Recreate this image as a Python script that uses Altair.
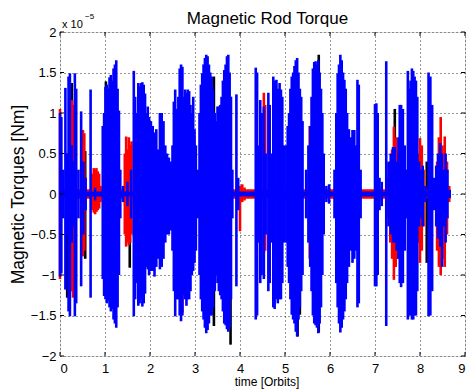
import altair as alt
import pandas as pd

# ---- data (torque values in units of 1e-5 Nm, time in orbits) ----
T_START, T_END = 0.0, 8.68

# envelope spikes (t, upper, lower)
BLUE = [
    (0.00, 1.00, -1.02), (0.03, 0.95, -0.98), (0.07, 0.30, -0.30), (0.12, 1.31, -1.18),
    (0.15, 0.50, -0.50), (0.19, 1.45, -1.45), (0.22, 1.49, -1.51), (0.26, 0.60, -0.60),
    (0.30, 0.40, -0.40), (0.33, 1.49, -1.51), (0.36, 1.30, -1.35), (0.41, 0.30, -0.30),
    (0.47, 1.02, -1.14), (0.52, 0.40, -0.50), (0.57, 0.20, -0.20), (0.68, 1.29, -1.28),
    (0.78, 0.08, -0.08),
    (0.95, 0.84, -1.05), (0.98, 1.00, -1.26), (1.01, 1.32, -1.30), (1.04, 1.35, -1.35),
    (1.07, 1.30, -1.32), (1.10, 1.44, -1.40), (1.13, 1.47, -1.45), (1.16, 1.40, -1.42),
    (1.19, 1.55, -1.55), (1.22, 1.60, -1.60), (1.25, 1.65, -1.65), (1.28, 1.30, -1.40),
    (1.31, 1.03, -1.00), (1.34, 0.30, -0.30), (1.40, 0.10, -0.10), (1.50, 0.15, -0.15),
    (1.58, 0.30, -0.30),
    (1.64, 1.52, -1.51), (1.67, 1.20, -1.30), (1.70, 1.00, -1.10), (1.74, 1.37, -1.38),
    (1.77, 1.33, -1.35), (1.80, 1.37, -1.30), (1.83, 1.38, -1.39), (1.86, 1.35, -1.35),
    (1.89, 1.24, -1.23), (1.92, 1.00, -0.90), (1.95, 1.08, -0.93), (1.98, 0.95, -1.00),
    (2.02, 0.90, -0.95), (2.06, 0.84, -0.95), (2.10, 0.76, -1.02), (2.14, 0.80, -0.90),
    (2.18, 0.55, -0.80), (2.22, 1.00, -0.93), (2.26, 1.00, -0.90), (2.30, 0.90, -0.80),
    (2.34, 0.60, -0.60), (2.38, 0.50, -0.50), (2.42, 0.45, -0.50), (2.46, 0.40, -0.45),
    (2.50, 0.60, -0.70),
    (2.53, 1.14, -1.20), (2.56, 1.29, -1.51), (2.60, 1.05, -1.30), (2.63, 1.20, -1.30),
    (2.66, 1.55, -1.50), (2.69, 1.60, -1.57), (2.72, 1.57, -1.50), (2.75, 1.20, -1.25),
    (2.78, 1.29, -1.30), (2.81, 1.25, -1.38), (2.84, 1.29, -1.30), (2.87, 1.27, -1.30),
    (2.90, 1.10, -1.20), (2.93, 1.00, -1.00), (2.96, 1.20, -0.95), (2.99, 0.80, -0.85),
    (3.02, 0.60, -0.70), (3.06, 0.30, -0.30),
    (3.10, 1.00, -1.00), (3.13, 1.35, -1.30), (3.16, 1.49, -1.45), (3.19, 1.60, -1.55),
    (3.22, 1.68, -1.65), (3.25, 1.72, -1.72), (3.28, 1.70, -1.68), (3.31, 1.60, -1.60),
    (3.34, 1.50, -1.50), (3.37, 1.45, -1.50), (3.40, 1.30, -1.40), (3.44, 1.00, -1.20),
    (3.47, 0.90, -1.00),
    (3.50, 1.08, -1.10), (3.53, 1.08, -1.20), (3.56, 1.10, -1.25), (3.59, 1.20, -1.30),
    (3.62, 1.40, -1.45), (3.65, 1.53, -1.60), (3.68, 1.60, -1.62), (3.71, 1.70, -1.67),
    (3.74, 1.72, -1.70), (3.77, 1.50, -1.65), (3.80, 1.20, -1.30), (3.83, 0.30, -0.30),
    (3.92, 1.23, -1.14), (3.96, 0.20, -0.20),
    (4.35, 1.56, -1.55), (4.38, 1.50, -1.50), (4.41, 0.60, -0.60), (4.45, 1.16, -1.10),
    (4.48, 1.00, -1.00), (4.53, 1.08, -1.05), (4.57, 0.50, -0.50), (4.63, 1.25, -1.20),
    (4.66, 1.10, -1.10), (4.70, 0.50, -0.60), (4.74, 1.45, -1.40), (4.77, 1.40, -1.42),
    (4.81, 1.41, -1.30), (4.84, 1.30, -1.35), (4.88, 1.37, -1.30), (4.91, 1.29, -1.30),
    (4.94, 1.20, -1.10), (4.98, 0.60, -0.60),
    (5.03, 0.60, -0.60), (5.06, 0.84, -0.90), (5.09, 1.00, -1.10), (5.12, 1.30, -1.30),
    (5.15, 1.45, -1.49), (5.18, 1.50, -1.55), (5.21, 1.58, -1.60), (5.24, 1.65, -1.70),
    (5.27, 1.68, -1.76), (5.30, 1.50, -1.55), (5.33, 1.30, -1.40), (5.36, 1.20, -1.20),
    (5.39, 0.90, -1.00),
    (5.47, 0.30, -0.30), (5.52, 0.60, -0.60), (5.56, 0.84, -0.90), (5.59, 1.20, -1.20),
    (5.62, 1.55, -1.50), (5.65, 1.63, -1.60), (5.68, 1.64, -1.62), (5.71, 1.60, -1.65),
    (5.74, 1.65, -1.72), (5.77, 1.50, -1.60), (5.80, 1.30, -1.40), (5.83, 1.00, -1.00),
    (5.86, 0.50, -0.50), (5.92, 0.10, -0.10), (5.98, 0.12, -0.12),
    (6.10, 0.30, -0.30), (6.14, 1.00, -1.10), (6.17, 1.49, -1.40), (6.20, 1.60, -1.60),
    (6.23, 1.72, -1.71), (6.26, 1.65, -1.65), (6.29, 1.50, -1.55), (6.32, 1.41, -1.45),
    (6.35, 1.30, -1.30), (6.38, 1.00, -1.10), (6.42, 0.80, -0.90), (6.46, 0.70, -0.70),
    (6.50, 0.79, -0.85), (6.54, 0.79, -0.80), (6.58, 0.60, -0.70), (6.61, 1.41, -1.40),
    (6.64, 1.35, -1.35), (6.68, 0.30, -0.30),
    (7.00, 1.11, -1.14), (7.03, 1.12, -1.14), (7.06, 1.00, -1.00), (7.10, 0.20, -0.20),
    (7.15, 0.15, -0.15), (7.25, 1.64, -1.63), (7.30, 0.40, -0.40), (7.35, 0.50, -0.50),
    (7.40, 0.58, -0.60), (7.44, 0.58, -0.60), (7.48, 0.40, -0.70), (7.52, 0.70, -0.80),
    (7.55, 1.10, -1.10), (7.58, 1.10, -1.15), (7.62, 1.05, -1.10), (7.66, 0.60, -0.70),
    (7.70, 0.30, -0.30), (7.73, 1.52, -1.55), (7.76, 1.30, -1.50), (7.79, 1.40, -1.50),
    (7.82, 1.55, -1.55), (7.85, 1.52, -1.55), (7.88, 1.45, -1.50), (7.91, 1.40, -1.50),
    (7.94, 1.20, -1.20), (7.98, 0.40, -0.40), (8.02, 0.30, -0.30), (8.06, 0.35, -0.40),
    (8.12, 0.10, -0.10), (8.19, 1.50, -1.51), (8.23, 1.45, -1.50), (8.27, 1.10, -1.20),
    (8.31, 0.20, -0.20), (8.36, 0.35, -0.40), (8.40, 0.50, -0.55), (8.45, 0.63, -0.65),
    (8.49, 0.50, -0.90), (8.53, 0.30, -0.40), (8.57, 0.50, -0.60), (8.61, 0.30, -0.30),
    (8.66, 0.05, -0.05),
]

RED = [
    (0.00, 1.05, -1.05), (0.27, 1.16, -1.20), (0.29, 1.10, -1.28), (0.51, 0.79, -0.77),
    (0.54, 0.75, -0.70), (0.72, 0.25, -0.20), (0.75, 0.32, -0.23), (0.78, 0.30, -0.25),
    (0.81, 0.32, -0.22), (0.84, 0.28, -0.20), (0.87, 0.25, -0.18), (0.90, 0.10, -0.10),
    (1.44, 0.50, -0.50), (1.47, 0.71, -0.65), (1.50, 0.55, -0.60), (1.53, 0.70, -0.63),
    (1.56, 0.60, -0.60), (1.59, 0.65, -0.50), (2.72, 0.90, -1.46), (2.98, 0.71, -0.70),
    (3.29, 1.00, -1.56), (3.55, 0.79, -1.02), (4.00, 0.10, -0.46), (4.05, 0.12, -0.10),
    (4.10, 0.08, -0.08), (4.53, 1.25, -0.73), (4.56, 1.10, -0.70), (5.55, 0.84, -0.80),
    (6.54, 0.60, -0.60), (7.30, 0.20, -0.30), (7.34, 0.40, -0.60), (7.38, 0.55, -0.80),
    (7.42, 0.83, -1.06), (7.46, 0.70, -0.90), (7.50, 0.50, -0.80), (7.96, 0.50, -0.60),
    (8.00, 0.69, -0.85), (8.04, 0.60, -0.70), (8.08, 0.30, -0.40), (8.38, 0.40, -0.70),
    (8.42, 0.70, -0.90), (8.46, 0.95, -1.00), (8.50, 0.60, -0.80), (8.55, 0.71, -0.90),
    (8.60, 0.40, -0.50), (8.65, 0.10, -0.10),
]

BLACK = [
    (0.16, 0.50, -1.28), (0.26, 1.37, -1.20), (0.56, 0.53, -0.80), (1.02, 1.39, -1.24),
    (1.55, 0.60, -0.91), (3.42, 1.45, -1.63), (3.79, 1.20, -1.86), (5.28, 1.40, -1.76),
    (5.33, 1.00, -1.49), (5.75, 1.72, -1.71), (7.44, 1.05, -0.90), (8.15, 0.40, -0.85),
]

# quiet-level half widths of each signal
BASE_HALF = {"black": 0.05, "red": 0.06, "blue": 0.03}

X_TICKS = [0, 1, 2, 3, 4, 5, 6, 7, 8, 9]
Y_TICKS = [-2, -1.5, -1, -0.5, 0, 0.5, 1, 1.5, 2]

TITLE = "Magnetic Rod Torque"
X_TITLE = "time [Orbits]"
Y_TITLE = "Magnetic Torques [Nm]"

# ---- chart ----
W, H = 405, 324
FONT = "Liberation Sans"

xs = alt.Scale(domain=[0, 9], nice=False, zero=False)
ys = alt.Scale(domain=[-2, 2], nice=False, zero=False)

x_axis = alt.Axis(values=X_TICKS, title=X_TITLE, grid=True, gridDash=[1, 3],
                  gridColor="#333", gridWidth=1, ticks=False, tickSize=0, domain=False,
                  labelFont=FONT, labelFontSize=13, labelColor="black", labelPadding=6,
                  titleFont=FONT, titleFontSize=12, titleFontWeight="normal",
                  titleColor="black", titleX=W / 2 + 4, titleY=29.5,
                  titleBaseline="alphabetic", format="d")
y_axis = alt.Axis(values=Y_TICKS, title=Y_TITLE, grid=True, gridDash=[1, 3],
                  gridColor="#333", gridWidth=1, ticks=False, tickSize=0, domain=False,
                  labelFont=FONT, labelFontSize=13, labelColor="black", labelPadding=4,
                  format=".1~f", titleFont=FONT, titleFontSize=17.5,
                  titleFontWeight="normal", titleColor="black",
                  titleX=-37, titleY=H / 2, titleAngle=270, titleBaseline="alphabetic")


def X(field):
    return alt.X(field, scale=xs, axis=x_axis)


def Y(field):
    return alt.Y(field, scale=ys, axis=y_axis)


def spike_layer(rows, color, width):
    df = pd.DataFrame(rows, columns=["t", "hi", "lo"])
    return alt.Chart(df).mark_rule(color=color, strokeWidth=width).encode(
        x=X("t:Q"), y=Y("lo:Q"), y2="hi:Q")


def base_layer(color):
    h = BASE_HALF[color]
    df = pd.DataFrame({"t": [T_START], "t1": [T_END], "lo": [-h], "hi": [h]})
    return alt.Chart(df).mark_rect(color=color).encode(
        x=X("t:Q"), x2="t1:Q", y=Y("lo:Q"), y2="hi:Q")


xt = pd.DataFrame({"t": X_TICKS})
yt = pd.DataFrame({"lo": Y_TICKS})
tick_top = alt.Chart(xt).mark_rule(color="black").encode(
    x=X("t:Q"), y=alt.value(0), y2=alt.value(4))
tick_bot = alt.Chart(xt).mark_rule(color="black").encode(
    x=X("t:Q"), y=alt.value(H), y2=alt.value(H - 4))
tick_left = alt.Chart(yt).mark_rule(color="black").encode(
    y=Y("lo:Q"), x=alt.value(0), x2=alt.value(4))
tick_right = alt.Chart(yt).mark_rule(color="black").encode(
    y=Y("lo:Q"), x=alt.value(W), x2=alt.value(W - 4))

corner = pd.DataFrame({"t": [0.0], "lo": [2.0]})
mid_top = pd.DataFrame({"t": [4.5], "lo": [2.0]})


def text_layer(df, txt, size, align, dx, dy):
    return alt.Chart(df).mark_text(text=txt, font=FONT, fontSize=size, align=align,
                                   baseline="alphabetic", dx=dx, dy=dy,
                                   color="black").encode(x=X("t:Q"), y=Y("lo:Q"))


chart = alt.layer(
    spike_layer(BLACK, "black", 2.6),
    base_layer("black"),
    spike_layer(RED, "red", 2.6),
    base_layer("red"),
    spike_layer(BLUE, "blue", 2.6),
    base_layer("blue"),
    tick_top, tick_bot, tick_left, tick_right,
    text_layer(corner, "x 10", 11, "left", 2, -4),
    text_layer(corner, "\u22125", 8, "left", 25, -13),
    text_layer(mid_top, TITLE, 17, "center", 5, -8.5),
).properties(
    width=W, height=H,
    autosize=alt.AutoSizeParams(type="none"),
    padding={"left": 52, "top": 24, "right": 1, "bottom": 36},
).configure_view(
    stroke="black", strokeWidth=1.5
).configure(background="white")

chart.save("out.html", embed_options={"renderer": "svg", "actions": False})
